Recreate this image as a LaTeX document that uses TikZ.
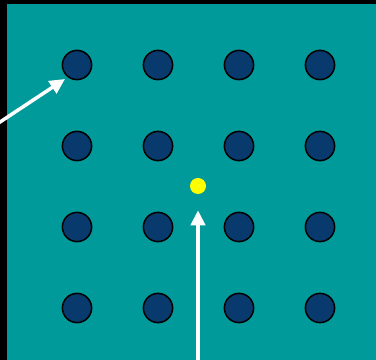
\documentclass[tikz,border=0pt]{standalone}
\usetikzlibrary{arrows.meta}
\definecolor{frame}{HTML}{000000}
\definecolor{pool}{HTML}{009A9A}
\definecolor{site-fill}{HTML}{083A6E}
\definecolor{probe-fill}{HTML}{FFFF00}
\tikzset{
  site/.style={
    circle, draw=black, fill=site-fill, line width=1.1pt,
    minimum size=0.73cm, inner sep=0pt
  },
  probe/.style={circle, fill=probe-fill, minimum size=0.4cm, inner sep=0pt},
  pointer/.style={
    draw=white, line width=2.5pt,
    -{Triangle[length=0.38cm, width=0.36cm]}
  }
}

\begin{document}
\begin{tikzpicture}[x=0.025cm, y=-0.025cm]

  % ---- Background ----------------------------------------------------------
  \useasboundingbox (0,0) rectangle (376,360);
  \fill[frame] (0,0) rectangle (376,360);
  \fill[pool] (7,4) rectangle (376,360);

  % ---- Lattice of sites ----------------------------------------------------
  \foreach \r in {1,...,4} {
    \foreach \c in {1,...,4} {
      \node[site] (s-\r-\c) at (77 + 81*\c - 81, 65 + 81*\r - 81) {};
    }
  }

  % ---- Probe in the middle -------------------------------------------------
  \node[probe] (probe) at (198,186) {};

  % ---- Pointers ------------------------------------------------------------
  \coordinate (entry) at (-6,126);
  \coordinate (aim) at (65,79);
  \draw[pointer] (entry) -- (aim);

  \coordinate (base) at (198,366);
  \draw[pointer, shorten >=0.4cm] (base) -- (probe);

\end{tikzpicture}
\end{document}
